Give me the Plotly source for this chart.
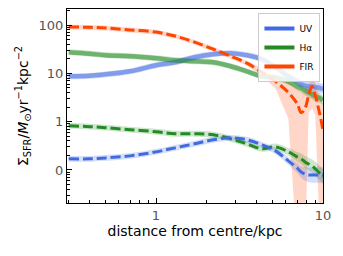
import plotly.graph_objects as go

# radius (kpc)
radius = [0.3, 0.4, 0.5, 0.7, 1.0, 1.3, 1.7, 2.2, 2.8, 3.5, 4.3, 5.2, 6.2,
          7.0, 7.4, 7.8, 8.2, 8.6, 9.0, 9.4, 9.7, 10.0]

# upper (solid) profiles
uv_top = [8.66, 8.87, 9.53, 11.0, 14.7, 16.9, 21.5, 24.9, 26.1, 23.7, 19.6, 13.3, 8.66,
          6.81, 5.9, 5.62, 5.36, 5.36, 5.11, 5.11, 4.87, 4.87]
ha_top = [27.4, 25.5, 23.7, 22.6, 20.5, 18.7, 17.8, 16.9, 14.0, 11.0, 8.66, 8.25, 6.81,
          5.36, 4.87, 4.42, 4.02, 3.65, 3.32, 3.16, 3.01, 2.74]
fir = [90.9, 89.6, 86.6, 78.7, 71.4, 59.0, 44.2, 31.6, 22.6, 16.2, 10.5, 6.81, 4.02,
       2.37, 1.54, 1.87, 3.48, 5.36, 3.48, 1.87, 1.15, 0.65]
# lower (dashed) profiles
ha_low = [0.825, 0.787, 0.75, 0.681, 0.619, 0.562, 0.562, 0.536, 0.443, 0.348, 0.274, 0.301, 0.237,
          0.187, 0.170, 0.147, 0.133, 0.121, 0.105, 0.0909, 0.0825, 0.0715]
uv_low = [0.170, 0.170, 0.178, 0.196, 0.237, 0.287, 0.348, 0.422, 0.464, 0.422, 0.332, 0.249, 0.154,
          0.110, 0.0909, 0.0825, 0.0787, 0.0787, 0.0787, 0.0787, 0.0787, 0.0787]

# uncertainty half-widths in dex
uv_top_err = [0.06]*12 + [0.07, 0.08, 0.09, 0.1, 0.1, 0.1, 0.1, 0.1, 0.1, 0.1]
ha_top_err = [0.06]*12 + [0.07, 0.08, 0.09, 0.1, 0.1, 0.1, 0.1, 0.1, 0.1, 0.1]
ha_low_err = [0.06]*11 + [0.07, 0.08, 0.1, 0.11, 0.12, 0.13, 0.14, 0.15, 0.15, 0.15, 0.15]
uv_low_err = [0.06]*11 + [0.07, 0.08, 0.1, 0.12, 0.14, 0.15, 0.16, 0.16, 0.16, 0.16, 0.16]
fir_err_hi = [0.05]*10 + [0.083, 0.10, 0.21, 0.31, 0.41, 0.37, 0.23, 0.17, 0.27, 0.33, 0.37, 0.52]
fir_err_lo = [0.05]*10 + [0.083, 0.145, 0.54, 3.0, 3.0, 3.0, 0.35, 0.455, 0.41, 3.0, 3.0, 3.0]

BLUE = "#4169E1"
GREEN = "#228B22"
ORANGE = "#FF4500"


def rgba(hexc, a):
    h = hexc.lstrip("#")
    return "rgba(%d,%d,%d,%s)" % (int(h[0:2], 16), int(h[2:4], 16), int(h[4:6], 16), a)


fig = go.Figure()


def band(vals, elo, ehi, color, alpha, shape="spline"):
    lo = [v / 10 ** e for v, e in zip(vals, elo)]
    hi = [v * 10 ** e for v, e in zip(vals, ehi)]
    fig.add_trace(go.Scatter(x=radius, y=lo, mode="lines", line=dict(width=0, shape=shape),
                             showlegend=False, hoverinfo="skip"))
    fig.add_trace(go.Scatter(x=radius, y=hi, mode="lines", line=dict(width=0, shape=shape),
                             fill="tonexty", fillcolor=rgba(color, alpha),
                             showlegend=False, hoverinfo="skip"))


band(uv_top, uv_top_err, uv_top_err, BLUE, 0.25)
band(ha_top, ha_top_err, ha_top_err, GREEN, 0.25)
band(fir, fir_err_lo, fir_err_hi, ORANGE, 0.22, shape="linear")
band(ha_low, ha_low_err, ha_low_err, GREEN, 0.22)
band(uv_low, uv_low_err, uv_low_err, BLUE, 0.22)

fig.add_trace(go.Scatter(x=radius, y=uv_top, mode="lines",
                         line=dict(color=rgba(BLUE, 0.55), width=4.5, shape="spline"), showlegend=False))
fig.add_trace(go.Scatter(x=radius, y=ha_top, mode="lines",
                         line=dict(color=rgba(GREEN, 0.55), width=4.5, shape="spline"), showlegend=False))
fig.add_trace(go.Scatter(x=radius, y=fir, mode="lines",
                         line=dict(color=ORANGE, width=3, dash="10px,4px", shape="spline"), showlegend=False))
fig.add_trace(go.Scatter(x=radius, y=ha_low, mode="lines",
                         line=dict(color=GREEN, width=3, dash="10px,4px", shape="spline"), showlegend=False))
fig.add_trace(go.Scatter(x=radius, y=uv_low, mode="lines",
                         line=dict(color=BLUE, width=3, dash="10px,4px", shape="spline"), showlegend=False))

# legend entries
for name, c in [("UV", BLUE), ("Hα", GREEN), ("FIR", ORANGE)]:
    fig.add_trace(go.Scatter(x=[None], y=[None], mode="lines", name=name,
                             line=dict(color=c, width=4)))

xminor = [0.3, 0.4, 0.5, 0.6, 0.7, 0.8, 0.9, 2, 3, 4, 5, 6, 7, 8, 9]
yminor = [k * 10 ** n for n in (-2, -1, 0, 1, 2) for k in range(2, 10)]

# page body has an 8px margin, so the figure is drawn 8px in from the top-left corner
fig.update_layout(
    width=335, height=248,
    margin=dict(l=59, r=20, t=1, b=53, autoexpand=False),
    plot_bgcolor="white", paper_bgcolor="white",
    font=dict(family="DejaVu Sans", color="black"),
    legend=dict(x=0.99, y=0.98, xanchor="right", yanchor="top", traceorder="normal",
                bgcolor="rgba(255,255,255,0.85)", bordercolor="#cccccc", borderwidth=1,
                font=dict(size=9), itemwidth=30, tracegroupgap=0),
    xaxis=dict(type="log", range=[-0.533, 1.0], showline=True, linecolor="black", linewidth=1.2,
               mirror=True, ticks="inside", ticklen=5, tickcolor="black", automargin=False,
               tickmode="array", tickvals=[1, 10], ticktext=["1", "10"],
               tickfont=dict(size=13, color="#555555"), showgrid=False, zeroline=False,
               minor=dict(ticks="inside", ticklen=3, tickcolor="black", tickmode="array",
                          tickvals=xminor, showgrid=False),
               title=dict(text="distance from centre/kpc", font=dict(size=14), standoff=4)),
    yaxis=dict(type="log", range=[-1.683, 2.331], showline=True, linecolor="black", linewidth=1.2,
               mirror=True, ticks="inside", ticklen=5, tickcolor="black", automargin=False,
               tickmode="array", tickvals=[0.1, 1, 10, 100], ticktext=["0", "1", "10", "100"],
               tickfont=dict(size=13, color="#555555"), showgrid=False, zeroline=False,
               minor=dict(ticks="inside", ticklen=3, tickcolor="black", tickmode="array",
                          tickvals=yminor, showgrid=False),
               title=dict(text="Σ<sub>SFR</sub>/<i>M</i><sub>⊙</sub>yr<sup>−1</sup>kpc<sup>−2</sup>",
                          font=dict(size=14), standoff=6)),
)

fig.write_html("out.html")
